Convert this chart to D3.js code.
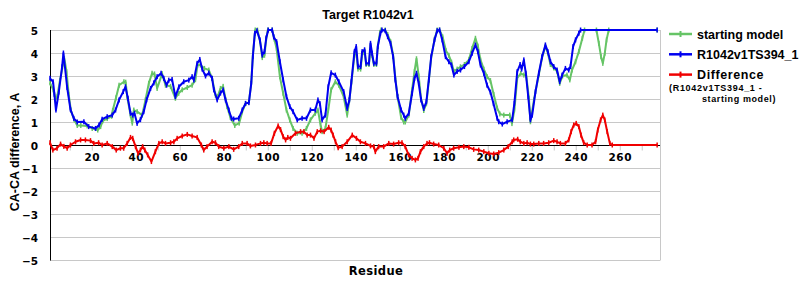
<!DOCTYPE html>
<html>
<head>
<meta charset="utf-8">
<script src="https://cdn.jsdelivr.net/npm/d3@7"></script>
<style>
  body { margin: 0; background: #fff; }
  text { font-family: "Liberation Sans", Arial, sans-serif; font-weight: bold; }
</style>
</head>
<body>
<div id="chart"></div>
<script>
// Sizing
const width = 800, height = 300;
const margin = { left: 50, top: 30, right: 140, bottom: 40 };
const plotWidth = 610, plotHeight = 230;

// Colouring
const startColor = "#66c466";
const modelColor = "#0000f0";
const diffColor = "#f00000";
const gridColor = "#c8c8c8";

// Content
const title = "Target R1042v1";
const xAxisTitle = "Residue";
const yAxisTitle = "CA-CA difference, A";
const legendLabels = ["starting model", "R1042v1TS394_1", "Difference"];
const legendNote = ["(R1042v1TS394_1 -", "starting model)"];
const xDomain = [1, 278.3];
const yTicks = [-5, -4, -3, -2, -1, 0, 1, 2, 3, 4, 5];
const xMinorTicks = d3.range(10, 271, 10);
const xTickLabels = d3.range(20, 261, 20);

// starting model (green)
const startRes = [1, 2.5, 3.5, 4.3, 5.5, 7.5, 8.5, 9.5, 10.5, 12, 13.4, 15, 17.9, 20.2, 22.7, 24, 25, 27, 29, 29.5, 31, 32.4, 34.6, 35.4, 36.1, 37.6, 38.4, 39.1, 40.6, 42.9, 44.4, 45.9, 47.4, 48.5, 49.7, 52, 53.5, 55.8, 58, 59.5, 61.1, 63.4, 65.6, 67.1, 68.1, 69.4, 71.2, 73.2, 74.7, 76.2, 77.2, 78.5, 79.7, 81.5, 83, 85, 87, 88.4, 89.9, 91.4, 92.5, 93.2, 94.3, 95.3, 96.5, 97.5, 98.5, 99.3, 100, 102, 103, 104, 105.5, 107, 108.5, 110, 111.5, 113.4, 115.6, 117.6, 119.4, 121.6, 122.8, 124, 124.7, 126.2, 127.5, 128.8, 130.7, 132.3, 134.5, 136.1, 137.1, 138, 139.4, 140.2, 141, 142.2, 142.9, 144, 144.7, 146, 146.7, 147.4, 148.2, 149.4, 150, 151, 151.5, 153.4, 154.5, 155.8, 157, 158, 159, 160.6, 161.8, 162.5, 164.1, 165.6, 166.7, 167.6, 168.6, 169.7, 170.9, 172.1, 173.2, 174.3, 175.8, 177, 178.1, 179.5, 181, 182.3, 183.5, 184.6, 186.1, 187.6, 189.4, 191.4, 192.9, 194.4, 195.5, 196.7, 198.2, 199.7, 201.2, 202.7, 204.3, 205.5, 207.3, 210, 211, 212.1, 213.4, 215, 216.4, 217.5, 218.7, 219.4, 221, 223.2, 224.7, 226.2, 227.3, 228.5, 230, 231.5, 232.7, 234, 236, 237.3, 238.3, 239.9, 241.4, 243, 244, 249.4, 250.5, 251.5, 252.3, 253.2, 254, 255, 277];
const startVals = [2.7, 2.4, 2.0, 2.1, 2.8, 3.77, 3.2, 2.2, 1.5, 1.1, 0.85, 0.85, 0.83, 0.72, 0.65, 0.8, 1.05, 1.15, 1.25, 1.5, 2.05, 2.6, 2.75, 2.73, 2.1, 1.3, 0.95, 1.52, 1.45, 1.3, 1.96, 2.68, 3.12, 3.09, 2.46, 3.1, 2.6, 2.55, 2.03, 2.25, 2.4, 2.5, 2.6, 2.84, 3.48, 3.48, 3.33, 3.26, 2.9, 2.17, 2.1, 2.46, 2.55, 1.67, 1.2, 0.85, 0.95, 1.45, 1.8, 1.85, 2.7, 3.9, 5, 5, 4.5, 3.8, 3.9, 4.6, 5, 5, 4.6, 4.2, 2.97, 2.25, 1.52, 1.09, 0.72, 0.51, 0.51, 0.72, 1.09, 1.38, 1.52, 0.87, 0.58, 0.72, 1.52, 2.4, 2.75, 2.6, 2.1, 1.3, 1.96, 2.7, 3.9, 4.1, 3.3, 3.3, 3.9, 4.1, 3.5, 3.5, 4.3, 3.9, 3.5, 3.5, 4.3, 4.9, 5, 5, 4.8, 4.5, 3.9, 2.9, 2.1, 1.2, 1.0, 1.0, 1.3, 2.4, 3.2, 3.75, 3.0, 2.0, 1.5, 1.8, 2.8, 3.8, 4.6, 5, 5, 4.7, 4.1, 3.9, 3.6, 3.2, 3.3, 3.4, 3.5, 3.7, 4.2, 4.64, 4.3, 3.7, 3.3, 2.97, 2.8, 2.2, 1.6, 1.35, 1.3, 1.3, 0.93, 1.52, 2.9, 3.12, 3.04, 3.04, 2.03, 1.01, 1.96, 3.05, 3.8, 4.3, 4.0, 3.5, 3.35, 3.2, 2.68, 3.0, 3.04, 2.83, 3.26, 3.62, 4.06, 4.64, 5, 5, 4.42, 3.84, 3.55, 3.99, 4.57, 5, 5];

// R1042v1TS394_1 (blue)
const modelRes = [1, 2.4, 3, 3.7, 5, 6.5, 7.1, 8.8, 10.3, 11.8, 13.4, 16.4, 18.6, 21.7, 23.3, 24.7, 27, 29.3, 30.8, 32.4, 34.3, 35.3, 36.4, 37.6, 38.6, 39.4, 40.6, 42.1, 43.6, 44.9, 46.7, 48.2, 49.7, 51.5, 52.7, 54, 55, 56.5, 58, 59.6, 61.8, 64.1, 65.6, 66.4, 67.9, 69.1, 70.2, 71.7, 73.2, 74.7, 75.5, 77, 78.5, 79.7, 80.8, 82.3, 83.5, 84.5, 86.8, 88.4, 89.9, 91.4, 92.5, 93.2, 94.1, 95.1, 96.4, 97.5, 98.5, 99.3, 100.2, 102, 102.7, 104, 105.5, 107, 108.5, 110, 111.5, 113.4, 115.6, 117.6, 119.4, 121.6, 122.8, 123.7, 124.7, 126.2, 127.5, 128.8, 130.7, 132.3, 134.5, 136.1, 137.1, 138, 139.4, 140.2, 141, 142.2, 142.9, 144, 144.7, 146, 146.7, 147.4, 148.2, 149.4, 150, 151.2, 151.9, 153.4, 154.5, 155.8, 157, 158, 159, 160.6, 161.8, 162.5, 164.1, 165.6, 166.7, 167.6, 168.6, 169.7, 170.9, 172.1, 173.2, 174.3, 175.8, 177, 178.1, 179.3, 180.8, 182.3, 183.5, 184.6, 186.1, 187.6, 189.4, 191.4, 192.9, 194.4, 195.5, 196.7, 198.2, 199.7, 201.2, 202.6, 204.3, 205, 206.6, 208.8, 211.1, 212.1, 213.4, 214.7, 215.4, 216.4, 217.3, 218.4, 219.4, 220.2, 221.7, 223.2, 224.7, 226.2, 227.3, 228.5, 230, 231.5, 232.7, 233.8, 235.3, 236.8, 237.6, 238.8, 239.9, 241.4, 242.2, 277];
const modelVals = [2.9, 2.75, 2.2, 1.52, 2.3, 3.4, 4.0, 2.5, 1.55, 1.16, 1.0, 1.01, 0.8, 0.72, 0.87, 1.12, 1.23, 1.3, 1.52, 1.96, 2.32, 2.53, 2.03, 1.38, 1.3, 1.38, 0.94, 1.1, 1.45, 1.96, 2.46, 2.7, 2.97, 3.12, 2.9, 2.6, 2.82, 2.85, 2.1, 2.53, 2.75, 2.82, 2.97, 2.82, 3.55, 3.72, 3.3, 3.0, 3.13, 2.9, 2.4, 1.96, 2.26, 2.4, 1.96, 1.52, 1.16, 1.13, 1.16, 1.52, 1.81, 1.84, 2.68, 3.84, 4.86, 4.97, 4.57, 3.91, 4.06, 4.65, 5, 5, 4.7, 4.49, 3.62, 2.83, 2.1, 1.67, 1.45, 1.09, 1.16, 1.16, 1.52, 1.52, 1.96, 1.8, 1.09, 1.3, 2.53, 3.14, 3.04, 2.75, 2.32, 1.59, 1.96, 2.75, 4.06, 4.28, 3.41, 3.41, 4.06, 4.14, 3.55, 3.55, 4.42, 3.99, 3.55, 3.55, 4.28, 4.86, 5, 4.97, 4.71, 4.42, 3.84, 2.83, 2.1, 1.52, 1.3, 1.16, 1.38, 2.25, 2.9, 3.12, 2.68, 1.96, 1.59, 1.88, 2.83, 3.84, 4.57, 4.97, 5, 4.57, 3.84, 3.62, 3.48, 3.04, 3.2, 3.26, 3.41, 3.62, 3.99, 4.35, 4.06, 3.48, 3.12, 2.6, 2.3, 1.8, 1.16, 1.01, 0.91, 1.01, 1.09, 1.81, 3.19, 3.5, 3.3, 3.7, 3.12, 2.1, 1.09, 1.3, 2.32, 3.12, 3.84, 4.35, 4.06, 3.62, 3.41, 3.26, 2.75, 3.04, 3.33, 3.26, 3.41, 4.28, 4.57, 4.86, 5, 5];

// Difference (red)
const diffRes = [1, 2.3, 4.2, 5.8, 7.3, 8.8, 10.3, 12.6, 14.9, 17.1, 19.4, 20.9, 23.1, 24.7, 27, 29.3, 31.1, 33, 34.5, 36.1, 37.6, 38.6, 39.9, 41, 42.1, 43.1, 44.1, 45.4, 47.1, 48.9, 50.5, 52, 53.5, 55.8, 57.3, 58.8, 61.1, 63.4, 65.6, 67.9, 69.8, 70.9, 72.4, 74.7, 76.2, 77.7, 80, 82.3, 84.5, 86.8, 88.4, 90.6, 92.1, 94.4, 96.7, 98.2, 99.7, 101.5, 103, 104.7, 105.8, 107, 108.1, 109.1, 110.3, 112.6, 114.9, 116.4, 117.9, 119.4, 121, 122.5, 124, 125.6, 127.7, 128.8, 129.7, 130.8, 132, 133.8, 136.1, 138.4, 140.3, 142.1, 144.4, 146.7, 148.2, 148.9, 150.4, 152.7, 155, 157.2, 159.5, 161, 162.5, 164, 165.6, 167.1, 168.3, 169.4, 170.9, 172.4, 173.5, 175.4, 177.7, 180, 181.5, 182.7, 184.5, 186.9, 189.1, 191.4, 193.6, 195.9, 198.2, 200.5, 202.7, 205, 207.3, 209.3, 211.1, 211.8, 213.6, 214.8, 216.4, 217.9, 219.4, 220.9, 223.2, 225.4, 227.7, 230, 231.5, 233, 235.3, 236.8, 237.9, 239.1, 240.2, 241.4, 242.4, 243.6, 245.2, 247.4, 249, 250, 251.3, 252.3, 253.2, 254.3, 255.5, 256.6, 277];
const diffVals = [0.1, -0.22, -0.14, 0.04, -0.06, -0.14, 0.0, 0.14, 0.22, 0.22, 0.19, 0.07, 0.1, 0, 0.07, -0.07, -0.22, -0.14, -0.14, 0.07, 0.33, 0.29, -0.07, -0.36, -0.22, -0.07, -0.22, -0.43, -0.72, -0.29, 0.07, 0.14, 0.07, 0.1, 0.14, 0.29, 0.39, 0.46, 0.39, 0.33, 0.0, -0.22, -0.07, 0.14, 0.1, -0.07, -0.14, -0.07, -0.19, -0.07, 0.07, 0.07, -0.04, 0, 0.07, 0.1, 0.07, 0.07, 0.51, 0.83, 0.67, 0.36, 0.22, 0.33, 0.29, 0.51, 0.58, 0.58, 0.43, 0.43, 0.29, 0.58, 0.62, 0.58, 0.77, 0.65, 0.43, 0.14, -0.12, -0.07, 0.14, 0.43, 0.29, 0.14, 0.07, -0.04, -0.07, -0.29, -0.07, -0.07, 0.07, 0.04, 0.1, 0.1, -0.07, -0.43, -0.58, -0.65, -0.58, -0.29, -0.07, 0.07, 0.1, 0.04, 0, -0.14, -0.36, -0.22, -0.14, -0.1, -0.07, -0.1, -0.19, -0.22, -0.29, -0.36, -0.39, -0.33, -0.22, -0.07, 0.14, 0.22, 0.25, 0.14, 0.07, 0.1, 0.04, 0.04, 0.07, 0.07, 0.1, 0.19, 0.14, 0.07, 0.07, 0.22, 0.58, 0.87, 0.94, 0.8, 0.43, 0.1, 0, 0, 0.14, 0.65, 1.09, 1.3, 1.09, 0.58, 0.07, 0, 0];

const series = [
  { name: legendLabels[0], color: startColor, res: startRes, vals: startVals },
  { name: legendLabels[1], color: modelColor, res: modelRes, vals: modelVals },
  { name: legendLabels[2], color: diffColor, res: diffRes, vals: diffVals }
];

/** Create SVG */
const svgRoot = d3.select("#chart").append("svg")
  .attr("width", width)
  .attr("height", height);

const svg = svgRoot.append("g")
  .attr("transform", "translate(" + margin.left + "," + margin.top + ")");

/** Scales */
const x = d3.scaleLinear().domain(xDomain).range([0, plotWidth]);
const y = d3.scaleLinear().domain([-5, 5]).range([plotHeight, 0]);

// grid
svg.append("g")
  .selectAll("line")
  .data(yTicks)
  .enter().append("line")
  .attr("x1", 0).attr("x2", plotWidth)
  .attr("y1", d => y(d) + 0.5).attr("y2", d => y(d) + 0.5)
  .style("stroke", gridColor);

// frame: right grey edge
svg.append("line")
  .attr("x1", plotWidth + 0.5).attr("x2", plotWidth + 0.5)
  .attr("y1", 0).attr("y2", plotHeight + 0.5)
  .style("stroke", gridColor);

/** Y-Axis */
const yAxis = svg.append("g").classed("axis", true)
  .call(d3.axisLeft(y).tickValues(yTicks).tickSize(0).tickPadding(12)
    .tickFormat(d => d < 0 ? "\u2212" + Math.abs(d) : d));
yAxis.select("path").remove();
yAxis.selectAll("text")
  .style("font-family", "'DejaVu Sans', Verdana, sans-serif")
  .style("font-size", "10.5px")
  .style("font-weight", "bold")
  .attr("dy", "0.4em")
  .attr("fill", "#000");

/** X-Axis sitting on zero */
const xAxis = svg.append("g").classed("axis", true)
  .attr("transform", "translate(0," + (y(0) + 0.5) + ")")
  .call(d3.axisBottom(x).tickValues(xMinorTicks).tickSize(5)
    .tickFormat(d => xTickLabels.includes(d) ? d : ""));
xAxis.select("path").remove();
xAxis.selectAll("line").style("stroke", gridColor);
xAxis.selectAll("text")
  .style("font-family", "'DejaVu Sans', Verdana, sans-serif")
  .style("font-size", "10.5px")
  .style("font-weight", "bold")
  .style("letter-spacing", "0.5px")
  .attr("y", 8)
  .attr("fill", "#000");

// zero line and left axis line
svg.append("line")
  .attr("x1", 0).attr("x2", plotWidth)
  .attr("y1", y(0) + 0.5).attr("y2", y(0) + 0.5)
  .style("stroke", "#000");
svg.append("line")
  .attr("x1", 0.5).attr("x2", 0.5)
  .attr("y1", 0).attr("y2", plotHeight + 0.5)
  .style("stroke", "#000");

/** Lines */
const line = d3.line()
  .x(d => x(d[0]))
  .y(d => y(d[1]));

series.forEach(s => {
  const pts = s.res.map((r, i) => [r, s.vals[i]]);
  const g = svg.append("g");
  g.append("path")
    .datum(pts)
    .attr("d", line)
    .attr("fill", "none")
    .attr("stroke", s.color)
    .attr("stroke-width", 2)
    .attr("stroke-linejoin", "round");
  // small point marks
  g.selectAll("rect")
    .data(pts)
    .enter().append("rect")
    .attr("x", d => x(d[0]) - 0.75)
    .attr("y", d => y(d[1]) - 2.5)
    .attr("width", 1.5)
    .attr("height", 5)
    .attr("fill", s.color);
});

/** Titles */
svgRoot.append("text")
  .attr("x", 368)
  .attr("y", 19)
  .attr("text-anchor", "middle")
  .style("font-size", "12.5px")
  .text(title);

svgRoot.append("text")
  .attr("x", 376)
  .attr("y", 275)
  .attr("text-anchor", "middle")
  .style("font-family", "'DejaVu Sans', Verdana, sans-serif")
  .style("font-size", "11.5px")
  .style("letter-spacing", "0.4px")
  .text(xAxisTitle);

svgRoot.append("text")
  .attr("transform", "translate(19,152) rotate(-90)")
  .attr("text-anchor", "middle")
  .style("font-size", "12.5px")
  .text(yAxisTitle);

/** Legend */
const legend = svgRoot.append("g")
  .attr("transform", "translate(669,34)");

const item = legend.selectAll("g")
  .data(series)
  .enter().append("g")
  .attr("transform", (d, i) => "translate(0," + i * 20.3 + ")");

item.append("line")
  .attr("x1", 0).attr("x2", 23)
  .attr("stroke", d => d.color)
  .attr("stroke-width", 2.5);
item.append("rect")
  .attr("x", 10.5).attr("y", -3)
  .attr("width", 2).attr("height", 6)
  .attr("fill", d => d.color);

item.append("text")
  .attr("x", 28)
  .attr("dy", "0.36em")
  .style("font-size", "12.5px")
  .style("letter-spacing", (d, i) => i === 2 ? "0.6px" : "0px")
  .text(d => d.name);

legend.append("text")
  .attr("x", 0)
  .attr("y", 56.5)
  .style("font-size", "9px")
  .style("letter-spacing", "0.7px")
  .text(legendNote[0]);
legend.append("text")
  .attr("x", 33)
  .attr("y", 68)
  .style("font-size", "9px")
  .style("letter-spacing", "0.6px")
  .text(legendNote[1]);
</script>
</body>
</html>
